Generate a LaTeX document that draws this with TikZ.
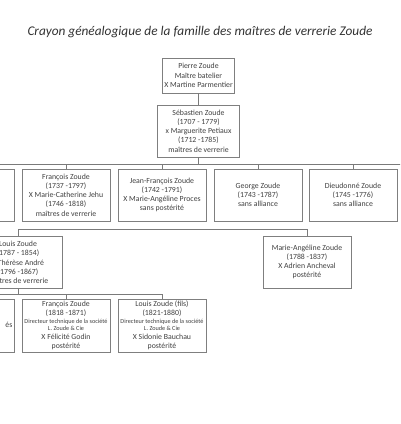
\documentclass[tikz,border=0pt]{standalone}
\usepackage{fontspec}
\setmainfont{Carlito}
\definecolor{boxgray}{HTML}{7F7F7F}
\definecolor{linegray}{HTML}{7A7A7A}
\definecolor{txtgray}{HTML}{404040}
\definecolor{titlegray}{HTML}{333333}
\begin{document}
\begin{tikzpicture}[x=1pt,y=-1pt,
  box/.style={draw=boxgray, line width=0.8pt, text=txtgray, align=center,
    font=\fontsize{7.8}{9.2}\selectfont, inner sep=0pt,
    minimum width=88pt, minimum height=52pt},
  link/.style={draw=linegray, line width=0.8pt}]
\useasboundingbox (0,0) rectangle (400,424);
\clip (0,0) rectangle (400,424);
\fill[white] (0,0) rectangle (400,424);

\node[font=\itshape\fontsize{13.3}{15}\selectfont, text=titlegray, inner sep=0pt] (title) at (200,32)
  {Crayon généalogique de la famille des maîtres de verrerie Zoude};

\node[box, minimum width=72pt, minimum height=35pt] (pierre) at (198.5,75.5)
  {Pierre Zoude\\Maître batelier\\X Martine Parmentier};
\node[box, minimum width=82pt] (seb) at (198.5,131)
  {Sébastien Zoude\\(1707 - 1779)\\x Marguerite Petiaux\\(1712 -1785)\\maîtres de verrerie};

\node[box] (g2a) at (-30,195) {};
\node[box] (fra) at (66,195)
  {François Zoude\\(1737 -1797)\\X Marie-Catherine Jehu\\(1746 -1818)\\maîtres de verrerie};
\node[box] (jf) at (162,195)
  {Jean-François Zoude\\(1742 -1791)\\X Marie-Angéline Proces\\sans postérité};
\node[box] (geo) at (258,195)
  {George Zoude\\(1743 -1787)\\sans alliance};
\node[box] (dieu) at (353,195)
  {Dieudonné Zoude\\(1745 -1776)\\sans alliance};

\node[box] (lou) at (18,262.5)
  {Louis Zoude\\(1787 - 1854)\\X Thérèse André\\(1796 -1867)\\maîtres de verrerie};
\node[box] (ma) at (307,262)
  {Marie-Angéline Zoude\\(1788 -1837)\\X Adrien Ancheval\\postérité};

\node[box, minimum height=53pt] (g4a) at (-30,325.5) {};
\node[anchor=east, text=txtgray, font=\fontsize{7.8}{9}\selectfont, inner sep=0pt] (frag) at (12.5,325) {és};
\node[box, minimum height=53pt] (fr2) at (66,325.5)
  {François Zoude\\(1818 -1871)\\[-1.5pt]{\fontsize{6.2}{6.5}\selectfont Directeur technique de la société}\\[-2.5pt]{\fontsize{6.2}{6.5}\selectfont L. Zoude \& Cie}\\X Félicité Godin\\[0.3pt]postérité};
\node[box, minimum height=53pt] (lf) at (162,325.5)
  {Louis Zoude (fils)\\(1821-1880)\\[-1.5pt]{\fontsize{6.2}{6.5}\selectfont Directeur technique de la société}\\[-2.5pt]{\fontsize{6.2}{6.5}\selectfont L. Zoude \& Cie}\\X Sidonie Bauchau\\[0.3pt]postérité};

% connectors
\coordinate (h1L) at (-100,164);
\coordinate (h1R) at (420,164);
\draw[link] (pierre) -- (seb);
\draw[link] (seb.south) -- (seb.south |- h1L);
\draw[link] (h1L) -- (h1R);
\foreach \n in {g2a,fra,jf,geo,dieu} \draw[link] (\n.north |- h1L) -- (\n.north);

\draw[link] (lou.north) -- ++(0,-6.5) -| (ma.north);

\coordinate (h3L) at (-100,294);
\draw[link] (lou.south) -- (lou.south |- h3L);
\draw[link] (h3L) -- (lf.north |- h3L);
\foreach \n in {g4a,fr2,lf} \draw[link] (\n.north |- h3L) -- (\n.north);
\end{tikzpicture}
\end{document}
